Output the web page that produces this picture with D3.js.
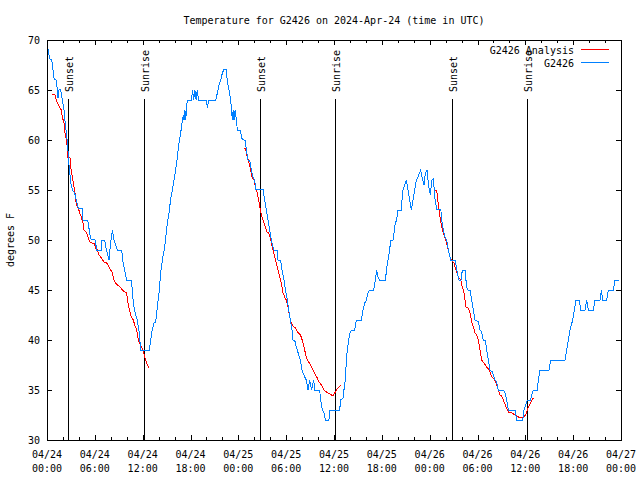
<!DOCTYPE html>
<html>
<head>
<meta charset="utf-8">
<script src="https://cdn.jsdelivr.net/npm/d3@7"></script>
<style>
  html, body { margin: 0; padding: 0; background: #fff; }
  svg { display: block; }
  text { font-family: "DejaVu Sans Mono", "Liberation Mono", monospace; font-size: 10px; fill: #000; }
</style>
</head>
<body>
<script>
// ---- data (hours after 2024-04-24 00:00 UTC) ----
const obsHours = [0.12,0.35,0.6,0.75,0.9,1.17,1.3,1.38,1.5,1.63,1.8,1.92,2.13,2.34,2.55,2.76,2.97,3.18,3.47,3.68,3.93,4.45,4.52,5.1,5.3,5.48,6.05,6.23,6.78,6.82,7.23,7.45,7.78,7.95,8.2,8.4,8.82,9.37,9.49,9.74,9.99,10.58,10.7,10.8,10.91,11.12,11.33,11.46,11.58,11.75,12.84,13.0,13.2,13.42,13.63,13.84,14.05,14.26,14.47,14.76,15.1,15.3,15.5,15.72,15.93,16.14,16.35,16.56,16.77,16.98,17.1,17.19,17.3,17.4,17.52,17.6,18.1,18.27,18.4,18.55,18.7,18.85,19.0,20.0,20.11,20.3,21.16,21.37,21.58,21.79,22.0,22.2,22.5,22.6,22.83,23.04,23.25,23.35,23.46,23.6,23.75,23.88,
  24.3,24.38,24.7,24.88,25.0,25.21,25.42,25.63,25.84,26.05,26.2,27.1,27.3,27.51,27.72,27.93,28.14,28.35,28.48,28.89,28.98,29.31,29.48,29.73,29.9,30.15,30.32,30.52,30.73,30.86,31.07,31.2,31.4,31.57,31.78,31.99,32.32,32.53,32.74,32.95,33.2,33.45,33.6,34.2,34.33,34.54,34.75,34.91,35.37,35.46,36.71,36.84,37.13,37.25,37.42,37.55,37.67,37.84,38.01,38.18,38.6,38.8,39.43,39.64,39.85,40.06,40.27,40.47,40.98,41.19,41.35,41.52,41.73,42.48,42.56,42.77,42.98,43.11,43.4,43.53,43.69,43.86,44.03,44.45,44.53,44.66,44.87,45.07,45.28,45.49,45.7,45.91,46.12,46.33,46.54,46.87,47.04,47.29,47.46,47.67,47.79,47.95,48.1,48.2,48.3,48.46,48.67,
  48.88,49.4,49.5,49.71,49.92,50.13,50.34,50.63,51.22,51.39,51.68,51.93,52.1,52.43,52.64,52.8,53.06,53.27,53.48,53.69,54.11,54.31,54.52,54.73,54.98,55.15,55.36,55.57,55.86,56.19,56.4,56.61,57.24,57.45,57.66,57.87,58.71,58.91,59.67,59.84,60.04,60.25,60.67,60.79,61.0,61.5,61.63,61.84,62.97,63.18,64.98,65.18,65.39,65.6,65.94,66.15,66.35,66.77,66.94,67.48,67.69,67.9,68.53,68.74,69.37,69.54,69.71,70.21,70.42,71.04,71.25,71.8];
const obsTemps = [69.1,68.1,68.0,67.0,66.1,66.0,65.0,64.2,65.0,65.1,64.7,64.0,63.0,61.3,59.8,57.5,55.8,55.0,54.7,54.0,53.2,53.1,52.0,52.0,51.0,50.1,50.0,49.0,49.0,50.0,50.0,49.0,48.0,49.5,51.0,50.0,49.0,49.0,48.0,47.0,46.0,46.0,45.0,44.0,43.3,42.5,42.0,41.3,40.7,39.0,39.0,40.0,41.0,41.7,41.8,43.3,44.7,46.7,48.0,49.3,51.7,52.7,54.0,55.0,56.0,57.0,58.3,59.7,60.7,62.0,62.5,62.0,63.0,62.0,63.3,64.0,64.0,65.0,64.0,65.0,64.0,65.0,64.0,64.0,63.2,64.0,64.0,64.7,65.5,66.0,66.7,67.1,67.1,66.0,65.0,64.0,62.0,63.0,62.0,63.0,62.0,61.0,
  61.0,60.2,60.0,60.0,59.0,58.0,58.0,57.0,56.3,56.0,55.1,55.1,54.0,53.0,52.0,51.0,50.0,49.3,49.0,49.0,48.0,48.0,47.0,46.0,45.0,44.0,43.0,42.0,41.0,40.0,40.0,39.5,39.0,38.5,38.0,37.0,36.3,36.0,35.0,36.0,35.0,36.0,35.0,35.0,34.0,33.0,32.7,32.0,32.0,33.0,33.0,34.0,34.2,35.0,36.0,38.0,39.0,40.0,40.7,41.0,41.0,42.0,42.0,43.0,43.7,44.0,44.7,45.0,45.0,46.0,47.0,46.3,46.0,46.0,47.0,48.0,49.0,50.0,50.0,50.7,51.7,52.0,53.0,53.0,54.0,55.0,55.5,56.0,55.0,54.0,53.0,54.0,55.0,56.0,56.3,57.0,56.3,55.5,56.7,57.0,56.0,55.0,54.5,55.5,56.0,56.1,54.1,
  53.1,53.1,52.0,51.0,50.3,50.0,49.0,48.0,48.0,47.0,46.0,46.0,47.0,47.0,45.3,45.0,45.0,44.0,43.0,42.0,41.8,41.0,40.8,40.0,40.0,39.0,38.0,37.0,36.8,36.0,35.8,35.0,35.0,34.7,34.0,33.0,33.0,32.0,32.0,33.0,33.5,34.0,34.0,34.5,35.0,35.0,36.0,37.0,37.0,38.0,38.0,39.0,40.0,41.0,42.0,43.0,44.0,44.0,43.0,43.0,44.0,43.0,43.0,44.0,44.0,45.0,44.0,44.0,45.0,45.0,46.0,46.0];

// analysis series: three runs, separated by null
const anaHours = [0.67,0.96,1.09,1.3,1.63,1.8,1.92,2.13,2.26,2.43,2.55,2.63,2.88,2.97,3.18,3.39,3.51,3.68,3.93,4.1,4.3,4.52,4.64,4.93,5.14,5.35,5.6,5.9,6.1,6.31,6.52,6.81,7.15,7.48,7.78,7.99,8.2,8.4,8.61,8.82,9.16,9.45,9.74,9.99,10.16,10.33,10.58,10.83,11.0,11.25,11.46,11.75,12.04,12.25,12.5,12.8,
  null,
  24.71,24.88,25.13,25.34,25.55,25.71,25.97,26.13,26.38,26.55,26.76,26.97,27.18,27.39,27.6,27.81,28.01,28.14,28.35,28.56,28.77,28.98,29.19,29.4,29.61,29.81,30.02,30.23,30.44,30.65,30.86,31.15,31.4,31.7,31.9,32.11,32.32,32.53,32.74,33.07,33.37,33.66,33.91,34.12,34.41,34.75,35.04,35.46,35.88,36.09,36.3,36.59,36.92,
  null,
  48.67,48.88,49.09,49.3,49.5,49.71,49.92,50.13,50.34,50.55,50.76,51.05,51.3,51.6,51.89,52.1,52.31,52.56,52.85,53.06,53.27,53.48,53.69,53.9,54.11,54.31,54.52,54.82,55.15,55.49,55.78,56.07,56.32,56.61,56.82,57.03,57.33,57.58,57.87,58.29,58.71,59.13,59.75,60.04,60.25,60.5,60.71,61.0];
const anaTemps = [64.6,64.6,64.2,63.7,63.2,63.0,62.3,61.7,60.7,60.0,59.3,58.3,58.3,57.3,56.3,55.3,54.7,53.5,53.2,52.7,52.3,51.7,51.0,50.8,50.3,49.8,49.7,49.7,49.2,49.0,48.5,48.2,47.8,47.7,47.3,47.0,46.7,46.0,45.7,45.5,45.3,45.0,44.8,44.7,43.7,43.0,42.3,42.0,41.5,41.0,40.0,39.5,39.0,38.3,37.7,37.2,
  null,
  59.2,59.2,58.3,57.7,57.0,56.3,56.0,55.3,54.7,54.0,53.0,52.3,51.8,51.3,50.8,50.7,50.2,49.7,49.0,48.3,47.7,47.0,46.3,45.7,44.7,44.3,44.0,43.3,42.3,41.7,41.4,41.2,40.8,40.6,40.3,39.7,39.0,38.3,37.9,37.5,37.0,36.5,36.2,35.8,35.5,35.0,34.8,34.6,34.4,34.7,35.0,35.3,35.5,
  null,
  55.0,55.0,53.5,52.3,51.3,50.7,50.2,49.7,49.0,48.3,48.0,47.7,47.0,46.3,46.0,45.3,44.7,43.3,43.2,42.7,41.8,41.3,40.7,40.5,40.0,39.0,38.0,37.7,37.3,37.0,36.3,36.1,35.7,35.0,34.5,34.4,33.8,33.3,32.8,32.7,32.5,32.3,32.3,32.5,33.0,33.5,33.8,34.2];

const sunHours = [2.68, 12.17, 26.76, 36.17, 50.85, 60.25];
const sunLabels = ["Sunset", "Sunrise", "Sunset", "Sunrise", "Sunset", "Sunrise"];

const yTicks = [30, 35, 40, 45, 50, 55, 60, 65, 70];
const xTickHours = [0, 6, 12, 18, 24, 30, 36, 42, 48, 54, 60, 66, 72];
const seriesNames = ["G2426 Analysis", "G2426"];
const seriesColors = ["#ff0000", "#0080ff"];
const titleText = "Temperature for G2426 on 2024-Apr-24 (time in UTC)";
const yLabel = "degrees F";

// ---- drawing ----
const W = 640, H = 480;
const t0 = Date.UTC(2024, 3, 24);
const toDate = h => new Date(t0 + h * 3600e3);
const L = 47, R = 621, T = 40, B = 440;

const x = d3.scaleUtc().domain([toDate(0), toDate(72)]).range([L, R]);
const y = d3.scaleLinear().domain([30, 70]).range([B, T]);

const svg = d3.select("body").append("svg").attr("width", W).attr("height", H);

// title
svg.append("text").attr("x", (L + R) / 2).attr("y", 24).attr("text-anchor", "middle").text(titleText);

// y label
svg.append("text").attr("transform", `translate(14,${(T + B) / 2}) rotate(-90)`)
  .attr("text-anchor", "middle").text(yLabel);

// axes (inward ticks)
const fmtD = d3.utcFormat("%m/%d"), fmtT = d3.utcFormat("%H:%M");
const xMajor = xTickHours.map(toDate);
const xMinor = d3.range(0, 73, 2).filter(h => h % 6 !== 0).map(toDate);

const gx = svg.append("g").attr("transform", `translate(0,${B})`)
  .call(d3.axisBottom(x).tickValues(xMajor).tickSize(-5).tickFormat(""));
gx.selectAll(".tick text").remove();
xMajor.forEach(d => {
  const t = svg.append("text").attr("x", x(d)).attr("y", 458).attr("text-anchor", "middle");
  t.append("tspan").attr("x", x(d)).text(fmtD(d));
  t.append("tspan").attr("x", x(d)).attr("dy", 14).text(fmtT(d));
});
svg.append("g").attr("transform", `translate(0,${B})`)
  .call(d3.axisBottom(x).tickValues(xMinor).tickSize(-3).tickFormat(""));
svg.append("g").attr("transform", `translate(0,${T})`)
  .call(d3.axisTop(x).tickValues(xMajor).tickSize(-5).tickFormat(""));
svg.append("g").attr("transform", `translate(0,${T})`)
  .call(d3.axisTop(x).tickValues(xMinor).tickSize(-3).tickFormat(""));

const gy = svg.append("g").attr("transform", `translate(${L},0)`)
  .call(d3.axisLeft(y).tickValues(yTicks).tickSize(-5).tickPadding(7).tickFormat(d3.format("d")));
svg.append("g").attr("transform", `translate(${R},0)`)
  .call(d3.axisRight(y).tickValues(yTicks).tickSize(-5).tickFormat(""));

svg.selectAll(".domain").remove();
svg.selectAll(".tick line").attr("stroke", "#000").attr("shape-rendering", "crispEdges");
gy.selectAll(".tick text").attr("font-family", null).attr("font-size", null).attr("dy", "0.35em");

// sunrise / sunset markers
sunHours.forEach((h, i) => {
  const xx = Math.round(x(toDate(h))) + 0.5;
  svg.append("line").attr("x1", xx).attr("x2", xx).attr("y1", 99).attr("y2", B)
    .attr("stroke", "#000").attr("stroke-width", 1).attr("shape-rendering", "crispEdges");
  svg.append("text").attr("transform", `translate(${xx + 4},92) rotate(-90)`).text(sunLabels[i]);
});

// series
const obs = obsHours.map((h, i) => ({ d: toDate(h), v: obsTemps[i] }));
const ana = anaHours.map((h, i) => ({ d: h == null ? null : toDate(h), v: anaTemps[i] }));
const line = d3.line().defined(p => p.d != null && p.v != null).x(p => x(p.d)).y(p => y(p.v));

svg.append("path").datum(ana).attr("d", line).attr("fill", "none")
  .attr("stroke", seriesColors[0]).attr("stroke-width", 1).attr("shape-rendering", "crispEdges");
svg.append("path").datum(obs).attr("d", line).attr("fill", "none")
  .attr("stroke", seriesColors[1]).attr("stroke-width", 1).attr("shape-rendering", "crispEdges");

// frame
svg.append("rect").attr("x", L + 0.5).attr("y", T + 0.5).attr("width", R - L).attr("height", B - T)
  .attr("fill", "none").attr("stroke", "#000").attr("stroke-width", 1).attr("shape-rendering", "crispEdges");

// legend
seriesNames.forEach((n, i) => {
  const yy = 50 + i * 13;
  svg.append("text").attr("x", 574).attr("y", yy + 4).attr("text-anchor", "end").text(n);
  svg.append("line").attr("x1", 581).attr("x2", 609).attr("y1", yy - 0.5).attr("y2", yy - 0.5)
    .attr("stroke", seriesColors[i]).attr("stroke-width", 1).attr("shape-rendering", "crispEdges");
});
</script>
</body>
</html>
